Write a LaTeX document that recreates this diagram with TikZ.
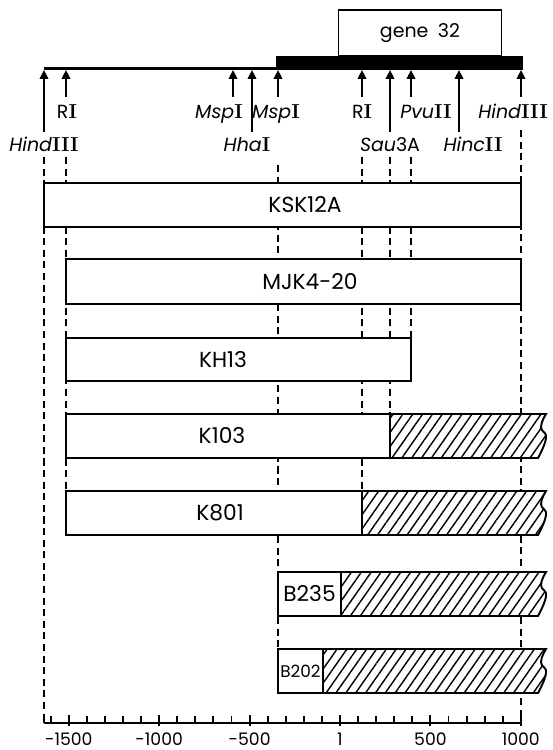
\documentclass[tikz,border=0pt]{standalone}
\usepackage{fontspec}
\setsansfont{Poppins}
\usetikzlibrary{arrows.meta,patterns.meta}
\newcommand\romain[1]{\textrm{\bfseries\fontsize{11.5}{12}\selectfont #1}}
\tikzset{
  >={Triangle[length=5pt,width=4.8pt]},
  site/.style={->, line width=1.1pt},
  enzyme/.style={font=\sffamily\fontsize{10.8}{12}\selectfont, inner sep=0pt, anchor=base},
  clone/.style={draw, fill=white, line width=1.1pt},
  hachure/.style={draw, line width=1.1pt, preaction={fill=white},
    pattern={Lines[angle=55, distance=4.6pt, line width=0.8pt]}},
  nom/.style={font=\sffamily\fontsize{12.4}{14}\selectfont, inner sep=0pt, anchor=base},
  guide/.style={line width=1.1pt, dash pattern=on 4pt off 2.6pt},
  axe/.style={line width=1.1pt},
  graduation/.style={font=\sffamily\fontsize{9.8}{11}\selectfont, inner sep=0pt, anchor=base},
}
\begin{document}
\begin{tikzpicture}[x=0.02cm, y=-0.02cm]
  \useasboundingbox (0,0) rectangle (552,750);
  % sites de restriction
  \coordinate (hindL) at (44,70);
  \coordinate (ecoL)  at (66,70);
  \coordinate (mspA)  at (233,70);
  \coordinate (hha)   at (252,70);
  \coordinate (mspB)  at (278,70);
  \coordinate (ecoR)  at (362,70);
  \coordinate (sau)   at (390,70);
  \coordinate (pvu)   at (411,70);
  \coordinate (hinc)  at (459,70);
  \coordinate (hindR) at (521,70);
  % traits de report
  \foreach \s/\a/\b in {hindL/157/723, ecoL/157/491, mspB/165/649, ecoR/157/491,
                        sau/157/414, pvu/157/338, hindR/130/723}
    \draw[guide] (\s |- 0,\a) -- (\s |- 0,\b);
  % carte
  \draw[line width=1.7pt] (hindL |- 0,68.5) -- (mspB |- 0,68.5);
  \fill (276,56) rectangle (523,70);
  \node[draw, line width=1.1pt, minimum width=3.26cm, minimum height=0.92cm, inner sep=0pt,
    font=\sffamily\fontsize{10.8}{12}\selectfont] (g32) at (420,33) {gene\enspace32};
  \foreach \s/\l in {hindL/132, ecoL/97, mspA/97, hha/132, mspB/97, ecoR/97,
                     sau/132, pvu/97, hinc/132, hindR/97}
    \draw[site] (\s |- 0,\l) -- (\s);
  % enzymes
  \node[enzyme] (nHindL) at (44,152)  {\textit{Hind}\romain{III}};
  \node[enzyme] (nEcoL)  at (67,118)  {R\romain{I}};
  \node[enzyme] (nMspA)  at (219,118) {\textit{Msp}\romain{I}};
  \node[enzyme] (nHha)   at (247,152) {\textit{Hha}\romain{I}};
  \node[enzyme] (nMspB)  at (276,118) {\textit{Msp}\romain{I}};
  \node[enzyme] (nEcoR)  at (362,118) {R\romain{I}};
  \node[enzyme] (nSau)   at (390,152) {\textit{Sau}3A};
  \node[enzyme] (nPvu)   at (426,118) {\textit{Pvu}\romain{II}};
  \node[enzyme] (nHinc)  at (473,152) {\textit{Hinc}\romain{II}};
  \node[enzyme] (nHindR) at (513,118) {\textit{Hind}\romain{III}};
  % clones
  \draw[clone] (hindL |- 0,183) rectangle (hindR |- 0,227);
  \node[nom] (ksk) at (305,212.5) {KSK12A};
  \draw[clone] (ecoL |- 0,259) rectangle (hindR |- 0,304);
  \node[nom] (mjk) at (310,289) {MJK4-20};
  \draw[clone] (ecoL |- 0,338) rectangle (pvu |- 0,381);
  \node[nom] (kh13) at (223,367) {KH13};
  \draw[clone] (ecoL |- 0,414) rectangle (sau |- 0,458);
  \draw[hachure] (sau |- 0,414) -- plot[smooth, tension=0.8] coordinates {(546,414) (541,427) (546,438) (538,458)} -- (sau |- 0,458) -- cycle;
  \node[nom] (k103) at (222,443.5) {K103};
  \draw[clone] (ecoL |- 0,491) rectangle (ecoR |- 0,535);
  \draw[hachure] (ecoR |- 0,491) -- plot[smooth, tension=0.8] coordinates {(546,491) (541,504) (546,515) (538,535)} -- (ecoR |- 0,535) -- cycle;
  \node[nom] (k801) at (220,520.5) {K801};
  \draw[clone] (mspB |- 0,572) rectangle (341,616);
  \draw[hachure] (341,572) -- plot[smooth, tension=0.8] coordinates {(546,572) (541,585) (546,596) (538,616)} -- (341,616) -- cycle;
  \node[nom] (b235) at (309.5,601.5) {B235};
  \draw[clone] (mspB |- 0,649) rectangle (323,693);
  \draw[hachure] (323,649) -- plot[smooth, tension=0.8] coordinates {(546,649) (541,662) (546,673) (538,693)} -- (323,693) -- cycle;
  \node[nom, font=\sffamily\fontsize{9.6}{11}\selectfont] (b202) at (300.5,677) {B202};
  % axe
  \draw[axe] (hindL |- 0,723) -- (hindR |- 0,723);
  \draw[axe] (hindL |- 0,723) -- ++(0,-8);
  \foreach \u in {-1600,-1500,...,1000}
    \draw[axe] (340+0.1808*\u,723) -- ++(0,-7);
  \foreach \u/\t in {-1500/-1500, -1000/-1000, -500/-500, 0/1, 500/500, 1000/1000} {
    \draw[axe] (340+0.1808*\u,726) -- ++(0,-11);
    \node[graduation] (grad\u) at (340+0.1808*\u,745) {\t};
  }
\end{tikzpicture}
\end{document}
